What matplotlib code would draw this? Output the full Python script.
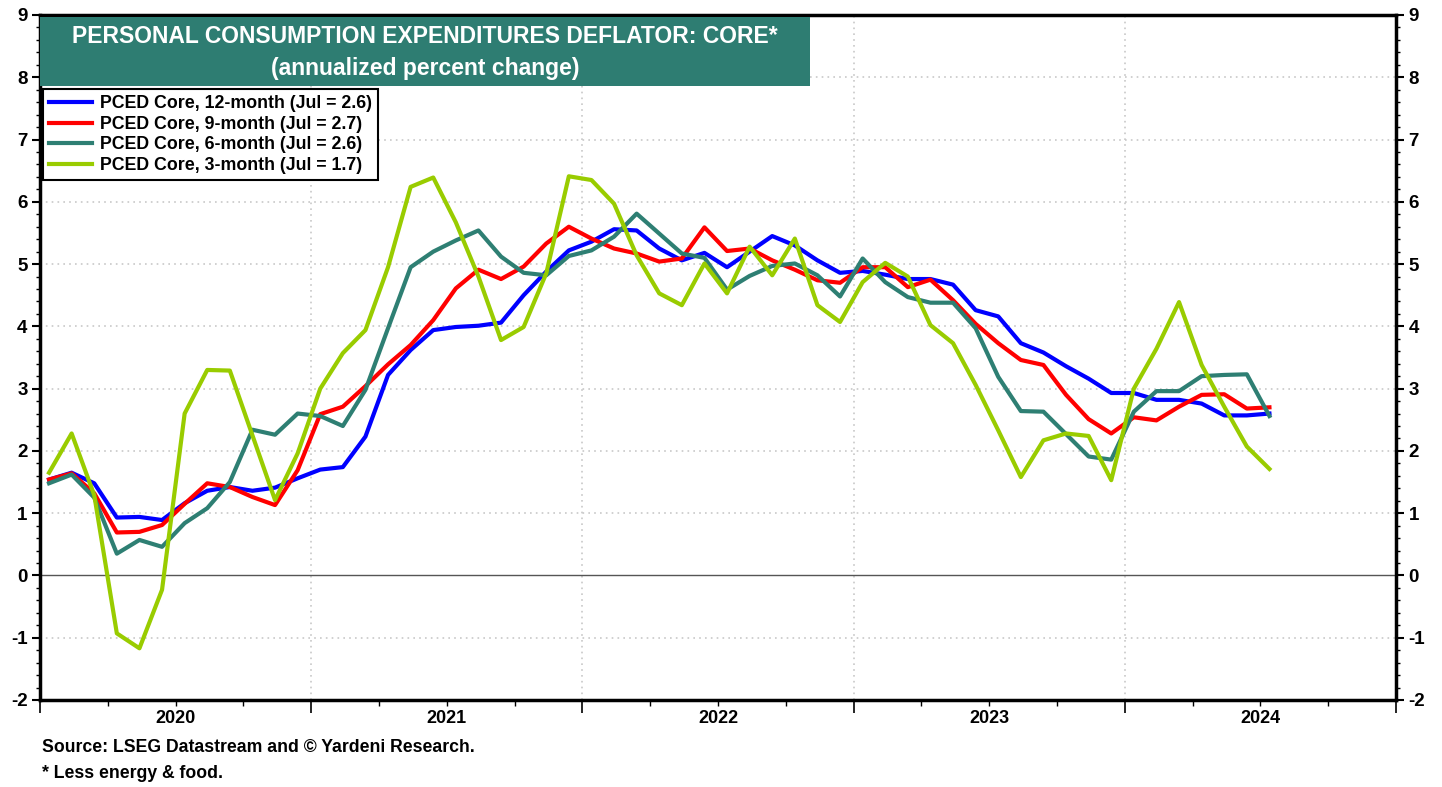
import numpy as np
import matplotlib
matplotlib.use('Agg')
import matplotlib.pyplot as plt
from matplotlib.patches import Rectangle
from matplotlib.ticker import MultipleLocator, FixedLocator, NullFormatter

plt.rcParams['font.family'] = ['Liberation Sans', 'DejaVu Sans']
plt.rcParams['font.weight'] = 'bold'
plt.rcParams['axes.unicode_minus'] = False

# monthly data, Jan 2020 .. Jul 2024
pce_12m = [1.54, 1.65, 1.48, 0.93, 0.94, 0.89, 1.16, 1.36, 1.42, 1.36,
           1.41, 1.56, 1.70, 1.74, 2.23, 3.22, 3.62, 3.94, 3.99, 4.01,
           4.06, 4.50, 4.88, 5.22, 5.36, 5.56, 5.54, 5.25, 5.06, 5.18,
           4.95, 5.20, 5.45, 5.30, 5.06, 4.86, 4.89, 4.83, 4.76, 4.76,
           4.67, 4.26, 4.16, 3.73, 3.58, 3.36, 3.16, 2.93, 2.93, 2.82,
           2.82, 2.76, 2.57, 2.57, 2.60]
pce_9m = [1.54, 1.64, 1.32, 0.69, 0.70, 0.81, 1.15, 1.48, 1.42, 1.26,
          1.13, 1.69, 2.59, 2.71, 3.04, 3.39, 3.70, 4.10, 4.61, 4.91,
          4.76, 4.96, 5.33, 5.60, 5.41, 5.25, 5.17, 5.04, 5.09, 5.59,
          5.21, 5.25, 5.06, 4.91, 4.74, 4.70, 4.95, 4.95, 4.63, 4.75,
          4.42, 4.04, 3.73, 3.46, 3.38, 2.90, 2.51, 2.28, 2.54, 2.49,
          2.71, 2.90, 2.91, 2.68, 2.70]
pce_6m = [1.48, 1.62, 1.25, 0.35, 0.57, 0.46, 0.84, 1.08, 1.50, 2.34,
          2.26, 2.60, 2.56, 2.40, 2.98, 3.97, 4.95, 5.20, 5.38, 5.54,
          5.12, 4.86, 4.82, 5.13, 5.22, 5.44, 5.81, 5.49, 5.17, 5.10,
          4.59, 4.81, 4.97, 5.01, 4.82, 4.48, 5.09, 4.71, 4.47, 4.38,
          4.38, 3.97, 3.19, 2.64, 2.63, 2.27, 1.91, 1.86, 2.63, 2.96,
          2.96, 3.20, 3.22, 3.23, 2.56]
pce_3m = [1.65, 2.28, 1.29, -0.93, -1.17, -0.23, 2.60, 3.30, 3.29, 2.25,
          1.21, 1.96, 3.00, 3.57, 3.94, 4.95, 6.24, 6.39, 5.67, 4.80,
          3.78, 3.99, 4.85, 6.41, 6.35, 5.97, 5.14, 4.53, 4.34, 5.01,
          4.53, 5.28, 4.82, 5.41, 4.34, 4.07, 4.71, 5.02, 4.80, 4.02,
          3.73, 3.06, 2.33, 1.58, 2.17, 2.28, 2.24, 1.53, 3.00, 3.64,
          4.39, 3.38, 2.71, 2.07, 1.71]

labels = ['PCED Core, 12-month (Jul = 2.6)',
          'PCED Core, 9-month (Jul = 2.7)',
          'PCED Core, 6-month (Jul = 2.6)',
          'PCED Core, 3-month (Jul = 1.7)']
colors = ['#0000ff', '#ff0000', '#2e7f73', '#99cc00']
years = [2020, 2021, 2022, 2023, 2024]

# x in months since Jan 2020, points near mid-month
x = np.arange(len(pce_12m)) + 0.4

fig = plt.figure(figsize=(14.42, 7.87), dpi=100)
ax = fig.add_axes([40/1442, 1-700/787, 1356/1442, 685/787])

for vals, c, lab in zip([pce_12m, pce_9m, pce_6m, pce_3m], colors, labels):
    ax.plot(x, vals, color=c, lw=3, label=lab, zorder=3)

ax.set_xlim(0, 60)
ax.set_ylim(-2, 9)

# grid
for yy in range(-1, 9):
    if yy != 0:
        ax.axhline(yy, color='#c8c8c8', lw=1.2, ls=(0, (1, 2.5)), zorder=1)
for xx in range(12, 60, 12):
    ax.axvline(xx, color='#c8c8c8', lw=1.2, ls=(0, (1, 2.5)), zorder=1)
ax.axhline(0, color='#555555', lw=1.0, zorder=2)

# y axis both sides
ax.yaxis.set_major_locator(MultipleLocator(1))
ax.yaxis.set_minor_locator(MultipleLocator(0.2))
ax.tick_params(axis='y', which='both', left=True, right=True,
               labelleft=True, labelright=True, direction='out')
ax.tick_params(axis='y', which='major', length=6, width=1.5, labelsize=13.5, pad=3)
ax.tick_params(axis='y', which='minor', length=3, width=1)
for t in ax.get_yticklabels():
    t.set_fontweight('bold')

# x axis: year boundaries, quarters, labels mid-year
ax.xaxis.set_major_locator(FixedLocator(list(range(0, 61, 12))))
ax.xaxis.set_minor_locator(FixedLocator([m for m in range(0, 61, 3) if m % 12]))
ax.xaxis.set_major_formatter(NullFormatter())
ax.tick_params(axis='x', which='major', length=9, width=1.2, direction='out')
ax.tick_params(axis='x', which='minor', length=4, width=1, direction='out')
for i, yr in enumerate(years):
    ax.text(6 + 12*i, -0.027, str(yr), transform=ax.get_xaxis_transform(),
            ha='center', va='center', fontsize=13, fontweight='bold')

for s in ax.spines.values():
    s.set_linewidth(2.5)

# title box
ax.add_patch(Rectangle((0, 0.896), 0.568, 0.101, transform=ax.transAxes,
                       facecolor='#2e7d72', edgecolor='none', zorder=4))
ax.text(0.284, 0.968, 'PERSONAL CONSUMPTION EXPENDITURES DEFLATOR: CORE*',
        transform=ax.transAxes, ha='center', va='center', color='white',
        fontsize=16.5, fontweight='bold', zorder=5)
ax.text(0.284, 0.9226, '(annualized percent change)',
        transform=ax.transAxes, ha='center', va='center', color='white',
        fontsize=16.5, fontweight='bold', zorder=5)

leg = ax.legend(loc='upper left', bbox_to_anchor=(0.0022, 0.892),
                borderaxespad=0, fancybox=False, framealpha=1,
                edgecolor='black', handlelength=2.4, handletextpad=0.45,
                labelspacing=0.2, borderpad=0.35,
                prop={'size': 12.8, 'weight': 'bold'})
leg.get_frame().set_linewidth(1.5)
leg.set_zorder(6)

fig.text(42/1442, 1-748/787, 'Source: LSEG Datastream and \u00a9 Yardeni Research.',
         ha='left', va='center', fontsize=12.7, fontweight='bold')
fig.text(42/1442, 1-773/787, '* Less energy & food.',
         ha='left', va='center', fontsize=12.7, fontweight='bold')

fig.savefig('out.png', dpi=100)
